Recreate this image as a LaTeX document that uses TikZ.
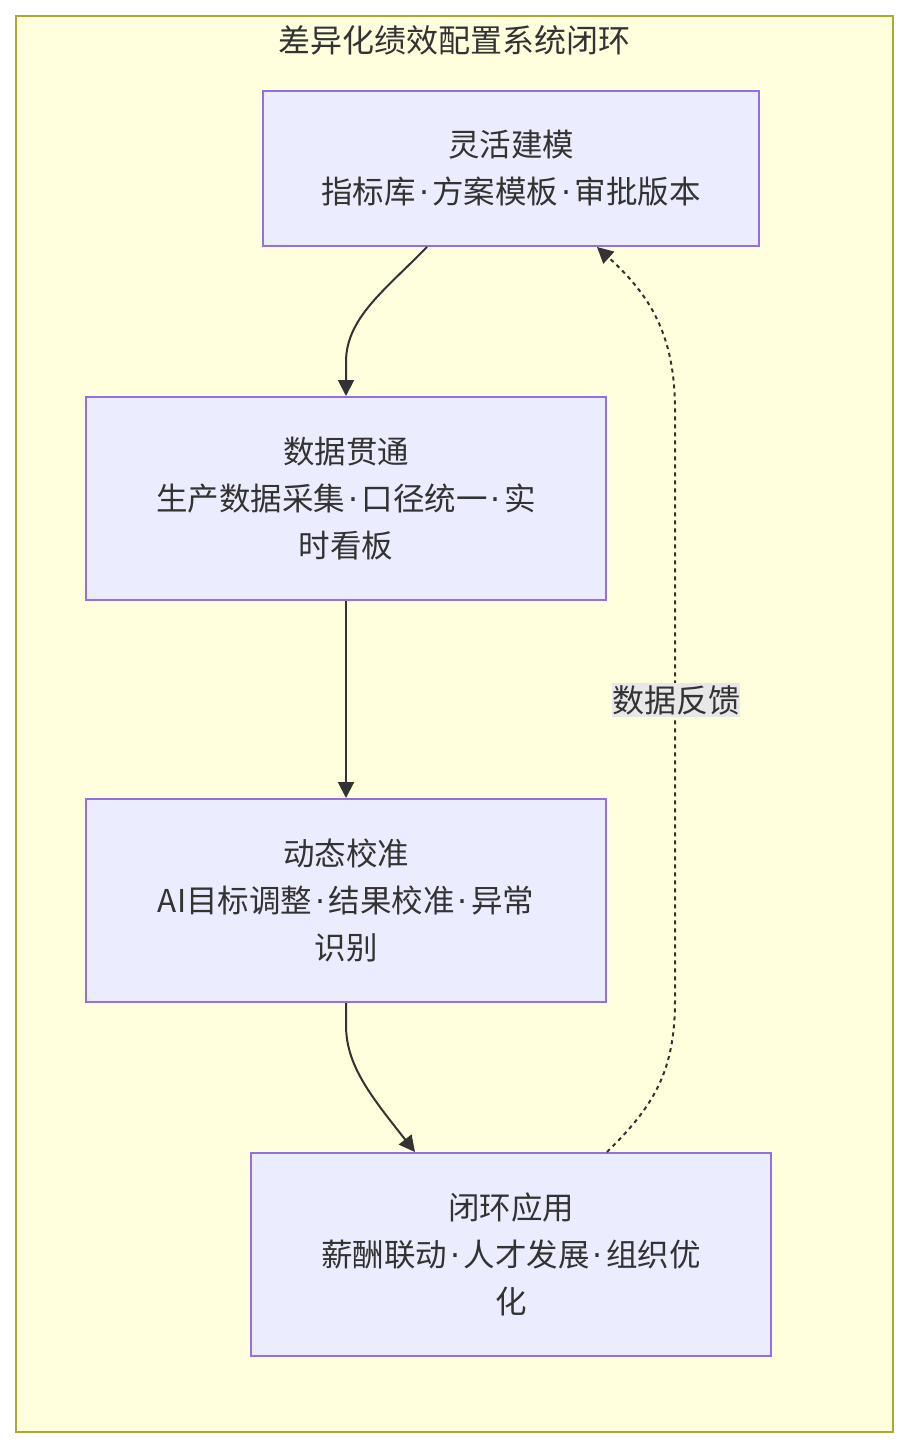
\documentclass[tikz,border=0pt]{standalone}
\usepackage{fontspec}
\setmainfont{Noto Sans CJK SC}
\newfontfamily\latinfont{DejaVu Sans}
\newcommand\mydot{\makebox[0.52em][c]{\latinfont ·}}
\usetikzlibrary{arrows.meta,calc}
\definecolor{nodefill}{HTML}{ECECFF}
\definecolor{nodeline}{HTML}{9370DB}
\definecolor{grpfill}{HTML}{FFFFDE}
\definecolor{grpline}{HTML}{AAAA33}
\definecolor{edgecol}{HTML}{333333}
\definecolor{lblbg}{HTML}{E8E8E8}
\tikzset{
  box/.style={draw=nodeline, fill=nodefill, line width=2pt, align=center, text=edgecol,
    font=\fontsize{31.5}{47}\selectfont, inner sep=0pt},
  conn/.style={draw=edgecol, line width=2pt, -{Triangle[length=16pt,width=16pt]}},
  fb/.style={conn, dash pattern=on 4pt off 4pt},
  lbl/.style={fill=lblbg, text=edgecol, font=\fontsize{32}{38}\selectfont, inner xsep=0pt, inner ysep=2pt},
}
\begin{document}
\begin{tikzpicture}[x=1pt,y=-1pt]
\useasboundingbox (0,0) rectangle (909,1448);
\fill[white] (0,0) rectangle (909,1448);
\node[draw=grpline, fill=grpfill, line width=2pt, minimum width=877pt, minimum height=1416pt, inner sep=0pt] (grp) at (454.5,724) {};
\node[text=edgecol, font=\fontsize{32}{38}\selectfont] (title) at (454.5,40) {差异化绩效配置系统闭环};
\node[box, minimum width=496pt, minimum height=155pt] (A) at (511,168.5) {灵活建模\\指标库\mydot 方案模板\mydot 审批版本};
\node[box, minimum width=520pt, minimum height=203pt] (B) at (346,498.5) {数据贯通\\生产数据采集\mydot 口径统一\mydot 实\\时看板};
\node[box, minimum width=520pt, minimum height=203pt] (C) at (346,900.5) {动态校准\\AI目标调整\mydot 结果校准\mydot 异常\\识别};
\node[box, minimum width=520pt, minimum height=203pt] (D) at (511,1254.5) {闭环应用\\薪酬联动\mydot 人才发展\mydot 组织优\\化};
\coordinate (a1) at ($(A.south)+(-84,0)$);
\coordinate (a2) at ($(A.south)+(86,0)$);
\coordinate (d1) at ($(D.north)+(-96,0)$);
\coordinate (d2) at ($(D.north)+(96,0)$);
\draw[conn] (a1) .. controls (385,290) and (346,318) .. (346,362) -- (B.north);
\draw[conn] (B.south) -- (C.north);
\draw[conn] (C.south) -- (346,1025) .. controls (346,1065) and (370,1095) .. (d1);
\draw[fb] (d2) .. controls (655,1105) and (675,1070) .. (675,1000) -- (675,410) .. controls (675,335) and (650,295) .. (a2);
\node[lbl] (L) at (676,700) {数据反馈};
\end{tikzpicture}
\end{document}
